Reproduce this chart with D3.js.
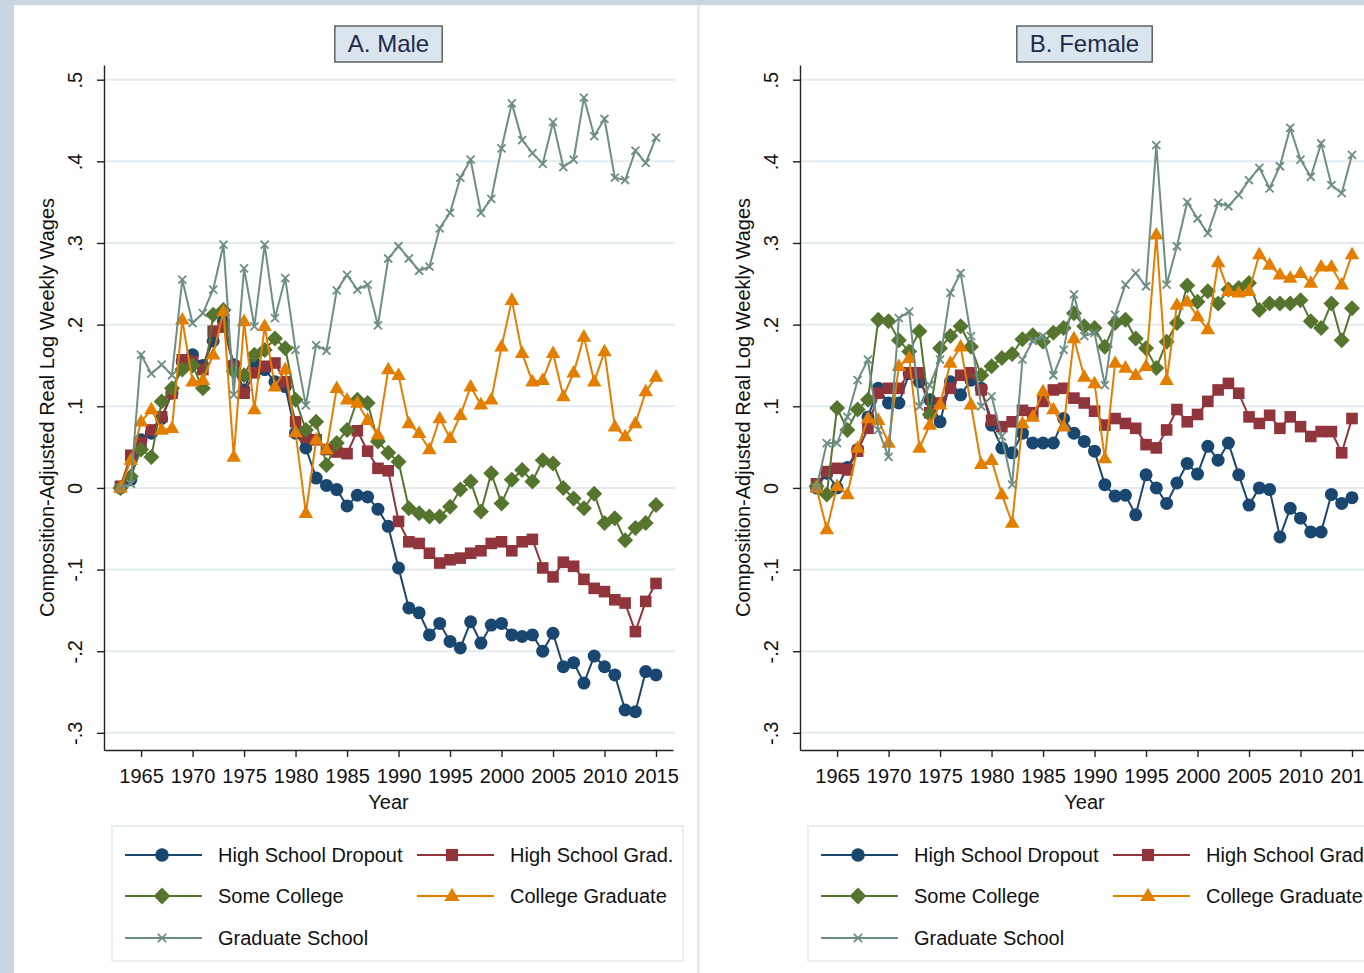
<!DOCTYPE html>
<html>
<head>
<meta charset="utf-8">
<script src="https://cdn.jsdelivr.net/npm/d3@7"></script>
<style>
html,body{margin:0;padding:0;background:#c9d5e1;overflow:hidden;}
svg{display:block;font-family:"Liberation Sans",Arial,Helvetica,sans-serif;}
</style>
</head>
<body>
<svg id="chart" width="1364" height="973"></svg>
<script>
const years = [1963,1964,1965,1966,1967,1968,1969,1970,1971,1972,1973,1974,1975,1976,1977,1978,1979,1980,1981,1982,1983,1984,1985,1986,1987,1988,1989,1990,1991,1992,1993,1994,1995,1996,1997,1998,1999,2000,2001,2002,2003,2004,2005,2006,2007,2008,2009,2010,2011,2012,2013,2014,2015];

const seriesNames = ["High School Dropout","High School Grad.","Some College","College Graduate","Graduate School"];
const seriesColors = ["#1a476f","#90353b","#55752f","#e37e00","#6e8e84"];
const seriesMarkers = ["circle","square","diamond","triangle","x"];

const xTicks = [1965,1970,1975,1980,1985,1990,1995,2000,2005,2010,2015];
const yTicks = [0.5,0.4,0.3,0.2,0.1,0,-0.1,-0.2,-0.3];
const yTickLabels = [".5",".4",".3",".2",".1","0","-.1","-.2","-.3"];

const panelTitles = ["A. Male","B. Female"];
const yTitle = "Composition-Adjusted Real Log Weekly Wages";
const xTitle = "Year";

// Male
const maleDropout = [0.0,0.01,0.059,0.067,0.085,0.116,0.155,0.163,0.150,0.18,0.204,0.151,0.120,0.153,0.145,0.130,0.124,0.067,0.049,0.012,0.003,-0.002,-0.022,-0.009,-0.011,-0.026,-0.047,-0.098,-0.147,-0.153,-0.180,-0.166,-0.188,-0.196,-0.164,-0.190,-0.168,-0.166,-0.180,-0.182,-0.180,-0.200,-0.178,-0.219,-0.214,-0.239,-0.206,-0.219,-0.229,-0.272,-0.274,-0.225,-0.229];
const maleHSGrad = [0.002,0.040,0.055,0.071,0.087,0.116,0.157,0.155,0.145,0.192,0.197,0.149,0.116,0.141,0.149,0.153,0.130,0.081,0.062,0.059,0.047,0.044,0.042,0.070,0.045,0.024,0.021,-0.041,-0.066,-0.068,-0.080,-0.092,-0.088,-0.086,-0.080,-0.077,-0.068,-0.066,-0.077,-0.066,-0.063,-0.098,-0.109,-0.091,-0.096,-0.112,-0.123,-0.127,-0.137,-0.141,-0.176,-0.139,-0.117];
const maleSomeCollege = [0.0,0.014,0.047,0.038,0.106,0.122,0.145,0.150,0.122,0.212,0.218,0.143,0.138,0.163,0.169,0.183,0.171,0.108,0.071,0.081,0.028,0.055,0.071,0.108,0.104,0.057,0.043,0.032,-0.025,-0.031,-0.035,-0.035,-0.023,-0.002,0.008,-0.029,0.018,-0.019,0.010,0.022,0.008,0.034,0.030,0.000,-0.013,-0.025,-0.007,-0.043,-0.037,-0.064,-0.049,-0.043,-0.021];
const maleCollegeGrad = [0.0,0.034,0.081,0.096,0.071,0.073,0.206,0.130,0.132,0.163,0.216,0.038,0.204,0.096,0.198,0.124,0.145,0.068,-0.031,0.059,0.047,0.122,0.108,0.104,0.083,0.065,0.145,0.138,0.079,0.067,0.047,0.085,0.061,0.089,0.124,0.102,0.108,0.173,0.230,0.165,0.130,0.132,0.165,0.112,0.141,0.185,0.130,0.167,0.075,0.063,0.079,0.118,0.136];
const maleGradSchool = [0.0,0.005,0.163,0.140,0.151,0.138,0.255,0.202,0.214,0.243,0.298,0.114,0.269,0.198,0.298,0.208,0.257,0.169,0.101,0.175,0.168,0.242,0.261,0.243,0.249,0.199,0.281,0.296,0.281,0.266,0.271,0.318,0.337,0.380,0.402,0.337,0.354,0.416,0.471,0.426,0.410,0.397,0.448,0.393,0.402,0.478,0.431,0.452,0.380,0.377,0.413,0.398,0.429];

// Female
const femaleDropout = [0.0,0.018,0.0,0.025,0.047,0.087,0.122,0.104,0.104,0.14,0.13,0.108,0.081,0.13,0.114,0.132,0.122,0.077,0.049,0.043,0.067,0.055,0.055,0.055,0.085,0.067,0.057,0.045,0.004,-0.010,-0.009,-0.033,0.016,0.000,-0.019,0.006,0.030,0.017,0.051,0.034,0.055,0.016,-0.021,0.000,-0.002,-0.060,-0.025,-0.037,-0.054,-0.054,-0.008,-0.019,-0.012];
const femaleHSGrad = [0.005,0.020,0.024,0.022,0.045,0.073,0.116,0.122,0.122,0.141,0.141,0.092,0.104,0.122,0.138,0.141,0.120,0.083,0.075,0.081,0.095,0.092,0.106,0.120,0.122,0.110,0.104,0.094,0.077,0.085,0.079,0.073,0.053,0.049,0.071,0.096,0.081,0.090,0.106,0.120,0.128,0.116,0.087,0.079,0.089,0.073,0.087,0.075,0.063,0.069,0.069,0.043,0.085];
const femaleSomeCollege = [0.002,-0.008,0.098,0.071,0.096,0.108,0.206,0.204,0.181,0.167,0.192,0.090,0.171,0.186,0.198,0.173,0.138,0.149,0.159,0.164,0.182,0.187,0.179,0.190,0.196,0.214,0.198,0.196,0.173,0.202,0.206,0.183,0.171,0.147,0.179,0.202,0.248,0.228,0.241,0.226,0.243,0.245,0.251,0.218,0.226,0.226,0.226,0.230,0.204,0.196,0.226,0.181,0.220];
const femaleCollegeGrad = [0.0,-0.051,0.002,-0.008,0.049,0.085,0.083,0.055,0.149,0.159,0.049,0.077,0.102,0.153,0.173,0.102,0.029,0.034,-0.008,-0.043,0.079,0.087,0.118,0.096,0.075,0.183,0.136,0.128,0.036,0.153,0.147,0.138,0.149,0.310,0.132,0.224,0.228,0.210,0.194,0.276,0.241,0.239,0.241,0.286,0.273,0.261,0.257,0.263,0.251,0.271,0.271,0.249,0.286];
const femaleGradSchool = [0.0,0.055,0.055,0.087,0.132,0.157,0.071,0.038,0.208,0.216,0.100,0.126,0.157,0.239,0.263,0.186,0.100,0.112,0.063,0.004,0.157,0.180,0.186,0.138,0.169,0.237,0.186,0.190,0.126,0.212,0.249,0.263,0.247,0.420,0.249,0.296,0.350,0.330,0.312,0.349,0.345,0.359,0.377,0.392,0.367,0.394,0.441,0.402,0.381,0.422,0.371,0.361,0.408];

const panels = [
  {title: panelTitles[0], series: [maleDropout, maleHSGrad, maleSomeCollege, maleCollegeGrad, maleGradSchool]},
  {title: panelTitles[1], series: [femaleDropout, femaleHSGrad, femaleSomeCollege, femaleCollegeGrad, femaleGradSchool]}
];

const svg = d3.select("#chart");
const FONT = "'Liberation Sans',Arial,Helvetica,sans-serif";

svg.append("rect").attr("x",0).attr("y",0).attr("width",1364).attr("height",973).attr("fill","#c9d5e1");
svg.append("rect").attr("x",14).attr("y",5).attr("width",683).attr("height",968).attr("fill","#ffffff");
svg.append("rect").attr("x",697).attr("y",5).attr("width",3).attr("height",968).attr("fill","#e6ecf1");
svg.append("rect").attr("x",700).attr("y",5).attr("width",700).attr("height",968).attr("fill","#ffffff");

function drawMarker(g, type, x, y, color, scale) {
  const s = scale || 1;
  if (type === "circle") {
    g.append("circle").attr("cx",x).attr("cy",y).attr("r",6.5*s).attr("fill",color);
  } else if (type === "square") {
    const h = 5.8*s;
    g.append("rect").attr("x",x-h).attr("y",y-h).attr("width",2*h).attr("height",2*h).attr("fill",color);
  } else if (type === "diamond") {
    const h = 8*s;
    g.append("path").attr("d",`M${x},${y-h}L${x+h},${y}L${x},${y+h}L${x-h},${y}Z`).attr("fill",color);
  } else if (type === "triangle") {
    const a = 14.5*s, ht = a*Math.sqrt(3)/2;
    g.append("path").attr("d",`M${x},${y-ht*0.62}L${x+a/2},${y+ht*0.38}L${x-a/2},${y+ht*0.38}Z`).attr("fill",color);
  } else if (type === "x") {
    const h = 4*s;
    g.append("path").attr("d",`M${x-h},${y-h}L${x+h},${y+h}M${x-h},${y+h}L${x+h},${y-h}`)
      .attr("stroke",color).attr("stroke-width",1.8).attr("fill","none");
  }
}

panels.forEach((p, pi) => {
  const off = pi * 696;
  const left = 104 + off, right = 673 + off, top = 65, bottom = 750;
  const x = d3.scaleLinear().domain([1961.4, 2016.65]).range([left, right]);
  const y = d3.scaleLinear().domain([-0.321, 0.518]).range([bottom, top]);
  const g = svg.append("g");

  // gridlines
  g.append("g").selectAll("line").data(yTicks).join("line")
    .attr("x1", left+1).attr("x2", right+2)
    .attr("y1", d => y(d)).attr("y2", d => y(d))
    .attr("stroke", "#e4ebf0").attr("stroke-width", 2);

  // y axis
  const yAxis = d3.axisLeft(y).tickValues(yTicks).tickSize(7).tickSizeOuter(0)
    .tickFormat((d,i) => yTickLabels[i]);
  const ya = g.append("g").attr("transform", `translate(${left},0)`).call(yAxis);
  ya.select(".domain").attr("stroke","#222").attr("stroke-width",1.4);
  ya.selectAll(".tick line").attr("stroke","#222").attr("stroke-width",1.4);
  ya.selectAll(".tick text").attr("font-size",20).attr("font-family",FONT).attr("fill","#111")
    .attr("text-anchor","middle").attr("x",0).attr("dy",0)
    .attr("transform","translate(-22,0) rotate(-90)");

  // x axis
  const xAxis = d3.axisBottom(x).tickValues(xTicks).tickSize(7).tickSizeOuter(0).tickFormat(d3.format("d"));
  const xa = g.append("g").attr("transform", `translate(0,${bottom})`).call(xAxis);
  xa.select(".domain").attr("stroke","#222").attr("stroke-width",1.4);
  xa.selectAll(".tick line").attr("stroke","#222").attr("stroke-width",1.4);
  xa.selectAll(".tick text").attr("font-size",20).attr("font-family",FONT).attr("fill","#111")
    .attr("y",19).attr("dy","0.71em");

  // axis titles
  g.append("text").attr("transform", `translate(${54+off},${(top+bottom)/2}) rotate(-90)`)
    .attr("text-anchor","middle").attr("font-size",20).attr("font-family",FONT).attr("fill","#111")
    .text(yTitle);
  g.append("text").attr("x",(left+right)/2).attr("y",809).attr("text-anchor","middle")
    .attr("font-size",20).attr("font-family",FONT).attr("fill","#111").text(xTitle);

  // panel title box
  const tcx = (left+right)/2;
  const tbox = g.append("rect");
  const tt = g.append("text").attr("x",tcx).attr("y",52).attr("text-anchor","middle")
    .attr("font-size",24).attr("font-family",FONT).attr("fill","#1c2c4c").text(p.title);
  const tw = tt.node().getComputedTextLength();
  tbox.attr("x",tcx - tw/2 - 13).attr("y",26).attr("width",tw+26).attr("height",36)
    .attr("fill","#dbe5ee").attr("stroke","#4a4a4a").attr("stroke-width",1.3);

  // series
  const line = d3.line().x((d,i) => x(years[i])).y(d => y(d));
  p.series.forEach((vals, si) => {
    const sg = g.append("g");
    sg.append("path").datum(vals).attr("d", line).attr("fill","none")
      .attr("stroke", seriesColors[si]).attr("stroke-width", 2);
    vals.forEach((v, i) => drawMarker(sg, seriesMarkers[si], x(years[i]), y(v), seriesColors[si], 1));
  });

  // legend
  const lg = g.append("g");
  lg.append("rect").attr("x",112+off).attr("y",826).attr("width",571).attr("height",135)
    .attr("fill","#ffffff").attr("stroke","#e2eaef").attr("stroke-width",1.5);
  const rowsY = [855, 896, 938];
  const colX = [{l1:125, l2:202, m:162, t:218},{l1:417, l2:494, m:452, t:510}];
  seriesNames.forEach((name, si) => {
    const row = Math.floor(si/2), col = si % 2;
    const c = colX[col], yy = rowsY[row];
    lg.append("line").attr("x1",c.l1+off).attr("x2",c.l2+off).attr("y1",yy).attr("y2",yy)
      .attr("stroke",seriesColors[si]).attr("stroke-width",2);
    drawMarker(lg, seriesMarkers[si], c.m+off, yy, seriesColors[si], 1.05);
    lg.append("text").attr("x",c.t+off).attr("y",yy+7).attr("font-size",20).attr("font-family",FONT)
      .attr("fill","#111").text(name);
  });
});
</script>
</body>
</html>
